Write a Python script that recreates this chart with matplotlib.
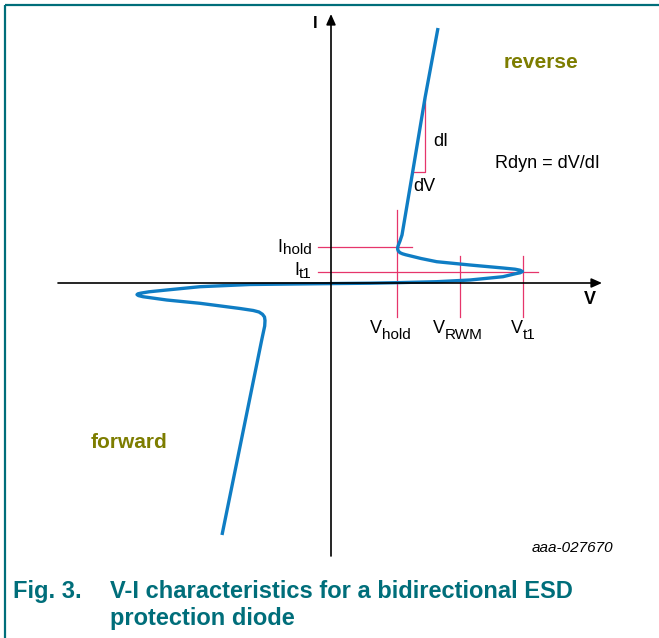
import matplotlib
matplotlib.use("Agg")
import matplotlib.pyplot as plt

plt.rcParams['font.family'] = ['Liberation Sans', 'DejaVu Sans']

# ---- data (V, I in drawing units, origin at axis crossing) ----
curve_v = [107, 94, 81.7, 71, 69, 67.6, 66.8, 66.6, 67.3, 69, 71.5, 74.5, 79, 90, 105.7, 139, 172,
           184, 189, 191.5,
           189, 184, 172, 139, 105.7, 69, 39, 0, -81, -131, -164.3, -182, -190, -193, -194,
           -192.5, -188, -164.3, -131, -91, -77.7, -72, -68.5, -66.5, -66, -66.3, -69.3, -109]
curve_i = [255, 185, 111.3, 48, 42, 38.5, 36, 34, 32, 30.3, 29.2, 28.3, 27.2, 24.5, 21.3, 18, 15,
           13.8, 12.8, 11.5,
           10.2, 9.2, 6.3, 3, 1.3, 0.4, -0.2, -0.6, -1.5, -3.7, -7, -8.8, -10.1, -10.8, -11.6,
           -12.6, -13.7, -17, -20.3, -25.5, -27.5, -29.0, -31.3, -34, -37.5, -43, -57, -252]

i_hold, i_t1 = 36.3, 11.3
v_hold, v_rwm, v_t1 = 65.7, 129, 192.3
di_top, di_bottom = 184.7, 111.3
dv_left, dv_right = 81.7, 94

blue = '#0f7dc4'
pink = '#e6356b'
teal = '#006e7a'
olive = '#7d7d00'

fig = plt.figure(figsize=(6.59, 6.38), dpi=100)
ax = fig.add_axes([0, 0, 1, 1])
ax.set_xlim(-331, 328)
ax.set_ylim(-355, 283)
ax.axis('off')

# frame lines
ax.plot([-326, 328], [278.5, 278.5], color=teal, lw=1.6, solid_capstyle='butt')
ax.plot([-326, -326], [278.5, -355], color=teal, lw=1.6, solid_capstyle='butt')

# axes with arrows
arrow_style = '-|>,head_length=0.45,head_width=0.2'
ax.annotate('', xy=(0, 269), xytext=(0, -273),
            arrowprops=dict(arrowstyle=arrow_style, lw=1.2, color='black',
                            mutation_scale=14, shrinkA=0, shrinkB=0))
ax.annotate('', xy=(271, 0), xytext=(-273, 0),
            arrowprops=dict(arrowstyle=arrow_style, lw=1.2, color='black',
                            mutation_scale=14, shrinkA=0, shrinkB=0))

# pink guide lines
ax.plot([-13, 80.7], [i_hold, i_hold], color=pink, lw=0.9)
ax.plot([-13, 207], [i_t1, i_t1], color=pink, lw=0.9)
ax.plot([v_hold, v_hold], [73, -33.7], color=pink, lw=0.9)
ax.plot([v_rwm, v_rwm], [27, -33.7], color=pink, lw=0.9)
ax.plot([v_t1, v_t1], [27, -33.7], color=pink, lw=0.9)
ax.plot([dv_right, dv_right, dv_left], [di_top, di_bottom, di_bottom], color=pink, lw=0.9)

# curve
ax.plot(curve_v, curve_i, color=blue, lw=2.4, solid_joinstyle='round', solid_capstyle='butt')

# axis labels
ax.text(-16, 259, 'I', fontsize=12, fontweight='bold', ha='center', va='center')
ax.text(259, -17, 'V', fontsize=13, fontweight='bold', ha='center', va='center')

# region labels
ax.text(210, 221, 'reverse', fontsize=15, fontweight='bold', color=olive, ha='center', va='center')
ax.text(-202, -160, 'forward', fontsize=15, fontweight='bold', color=olive, ha='center', va='center')

ax.text(102, 141.3, 'dI', fontsize=13, ha='left', va='center')
ax.text(82, 96.3, 'dV', fontsize=13, ha='left', va='center')
ax.text(164, 120, 'Rdyn = dV/dI', fontsize=13, ha='left', va='center')

def sublabel(x, y, main, sub, dy):
    ax.text(x, y, main, fontsize=13, ha='right', va='baseline')
    ax.text(x, y - dy, sub, fontsize=11, ha='left', va='baseline')

sublabel(51, -50.3, 'V', 'hold', 5.5)
sublabel(114, -50.3, 'V', 'RWM', 5.5)
sublabel(192, -50.3, 'V', 't1', 5.5)
sublabel(-48.5, 31.3, 'I', 'hold', 2.5)
sublabel(-32, 8, 'I', 't1', 2.5)

ax.text(282, -265, 'aaa-027670', fontsize=11, fontstyle='italic', ha='right', va='center')

# caption
ax.text(-318.3, 283 - 598.3, 'Fig. 3.', fontsize=17, fontweight='bold', color=teal,
        ha='left', va='baseline')
ax.text(-221, 283 - 598.3, 'V-I characteristics for a bidirectional ESD', fontsize=17,
        fontweight='bold', color=teal, ha='left', va='baseline')
ax.text(-221, 283 - 625, 'protection diode', fontsize=17, fontweight='bold', color=teal,
        ha='left', va='baseline')

fig.savefig('out.png', dpi=100)
